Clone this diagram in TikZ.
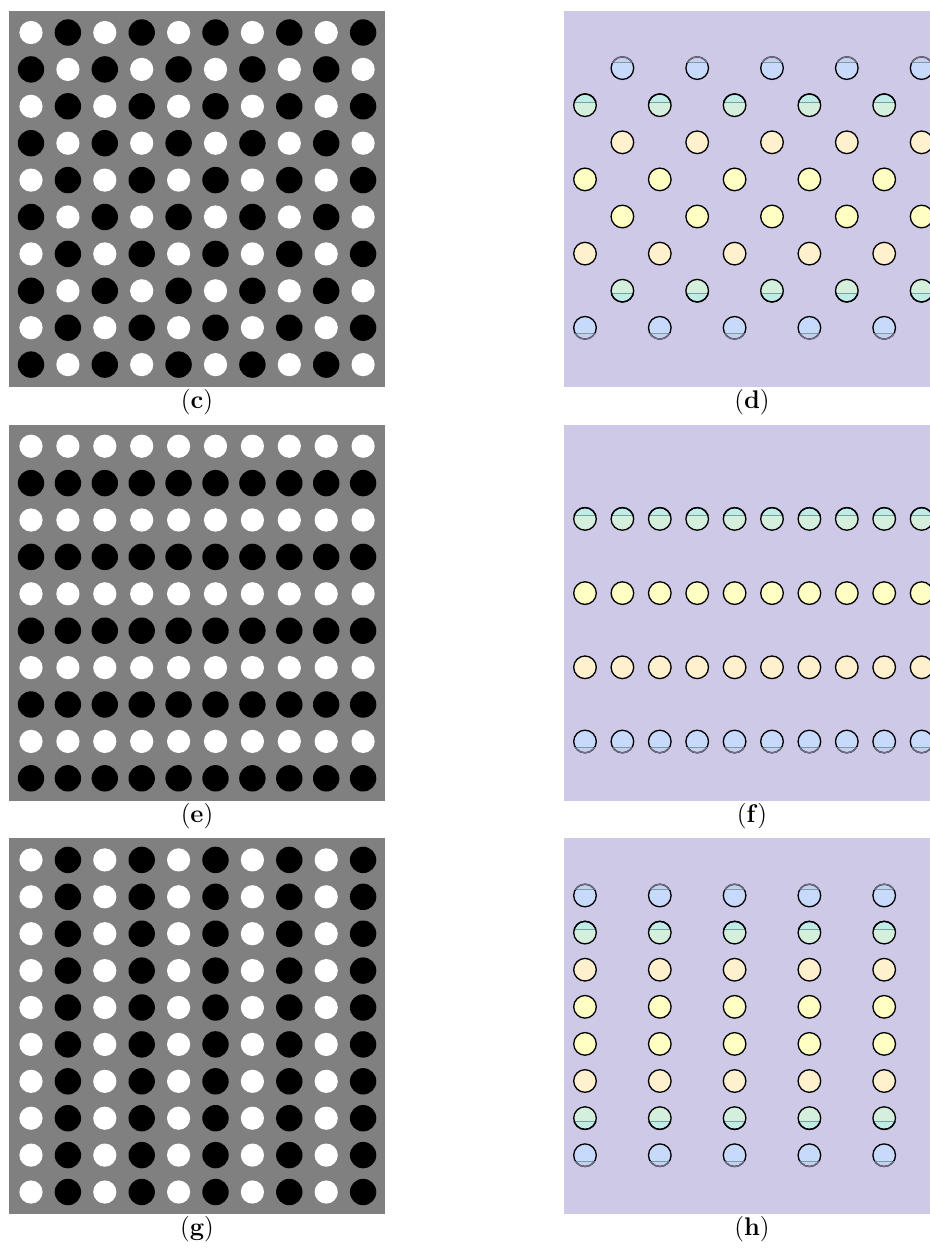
\documentclass[tikz,border=0pt]{standalone}
\usepackage{tikz}
\definecolor{panelgrey}{RGB}{128,128,128}
\definecolor{lilac}{RGB}{207,201,232}
\definecolor{iceblue}{RGB}{200,218,252}
\definecolor{icecap}{RGB}{200,206,238}
\definecolor{mint}{RGB}{212,240,220}
\definecolor{mintcap}{RGB}{192,236,232}
\definecolor{peach}{RGB}{255,240,206}
\definecolor{lemon}{RGB}{255,255,196}
\definecolor{rimgrey}{RGB}{110,110,135}
\definecolor{seam}{RGB}{120,160,160}

\newcommand{\ballr}{11.3}
\newcommand{\plainball}[3]{\filldraw[rim,fill=#3] (#1,#2) circle (\ballr);}
\newcommand{\capball}[7]{%
  \begin{scope}
    \clip (#1,#2) circle (\ballr);
    \fill[#3] (#1,#2) circle (\ballr);
    \fill[#4] (#1-\ballr,#2+#5) rectangle (#1+\ballr,#2+#6);
    \draw[seamline] (#1-\ballr,#2+#6) -- (#1+\ballr,#2+#6);
  \end{scope}
  \draw[rim] (#1,#2) circle (\ballr);
  \begin{scope}
    \clip (#1-\ballr-3,#2+#5) rectangle (#1+\ballr+3,#2+#6);
    \draw[rim,draw=#7] (#1,#2) circle (\ballr);
  \end{scope}}
\newcommand{\ballbt}[2]{\capball{#1}{#2}{iceblue}{icecap}{-14}{-6}{rimgrey}}
\newcommand{\ballgt}[2]{\capball{#1}{#2}{mint}{mintcap}{-14}{-3}{black}}
\newcommand{\ballor}[2]{\plainball{#1}{#2}{peach}}
\newcommand{\ballye}[2]{\plainball{#1}{#2}{lemon}}
\newcommand{\ballgb}[2]{\capball{#1}{#2}{mint}{mintcap}{14}{3}{black}}
\newcommand{\ballbb}[2]{\capball{#1}{#2}{iceblue}{icecap}{14}{6}{rimgrey}}

\tikzset{
  rim/.style={draw=black,line width=0.75pt},
  seamline/.style={draw=seam,line width=0.5pt},
  light/.style={fill=white,radius=11.6},
  dark/.style={fill=black,radius=13.2},
  lab/.style={anchor=north,inner sep=0pt,font=\fontsize{14.5}{17}\selectfont}
}

\begin{document}
\begin{tikzpicture}[x=0.02cm,y=-0.02cm]
\useasboundingbox (0,0) rectangle (930,1249);
\clip (0,0) rectangle (930,1249);

\foreach \p in {0,1,2} {
  \pgfmathsetmacro\T{11+413.7*\p}
  \fill[panelgrey] (9,\T) rectangle (385,\T+376);
  \fill[lilac] (564,\T) rectangle (940,\T+376);
}

% (c) chequerboard
\foreach \col in {0,...,9} \foreach \row in {0,...,9} {
  \pgfmathsetmacro\x{31+36.9*\col}
  \pgfmathsetmacro\y{32.5+36.9*\row}
  \ifodd\numexpr\col+\row\relax \def\kind{dark}\else \def\kind{light}\fi
  \fill[\kind] (\x,\y) circle;
}
% (e) rows
\foreach \col in {0,...,9} \foreach \row in {0,...,9} {
  \pgfmathsetmacro\x{31+36.9*\col}
  \pgfmathsetmacro\y{424.7+21.5+36.9*\row}
  \ifodd\row \def\kind{dark}\else \def\kind{light}\fi
  \fill[\kind] (\x,\y) circle;
}
% (g) columns
\foreach \col in {0,...,9} \foreach \row in {0,...,9} {
  \pgfmathsetmacro\x{31+36.9*\col}
  \pgfmathsetmacro\y{838.4+21.5+36.9*\row}
  \ifodd\col \def\kind{dark}\else \def\kind{light}\fi
  \fill[\kind] (\x,\y) circle;
}

% (d)
\foreach \row/\balltype in {1/\ballbt,2/\ballgt,3/\ballor,4/\ballye,5/\ballye,6/\ballor,7/\ballgb,8/\ballbb}
  \foreach \col in {0,2,...,8} {
    \pgfmathsetmacro\x{585+37.4*(\col+mod(\row,2))}
    \pgfmathsetmacro\y{31+37.1*\row}
    \balltype{\x}{\y}
  }
% (f)
\foreach \row/\balltype in {2/\ballgt,4/\ballye,6/\ballor,8/\ballbb}
  \foreach \col in {0,...,9} {
    \pgfmathsetmacro\x{585+37.4*\col}
    \pgfmathsetmacro\y{424.7+20+37.1*\row}
    \balltype{\x}{\y}
  }
% (h)
\foreach \row/\balltype in {1/\ballbt,2/\ballgt,3/\ballor,4/\ballye,5/\ballye,6/\ballor,7/\ballgb,8/\ballbb}
  \foreach \col in {0,2,...,8} {
    \pgfmathsetmacro\x{585+37.4*\col}
    \pgfmathsetmacro\y{838.4+20+37.1*\row}
    \balltype{\x}{\y}
  }

\node[lab] (labc) at (197,389) {(\textbf{c})};
\node[lab] (labd) at (752,389) {(\textbf{d})};
\node[lab] (labe) at (197,802.7) {(\textbf{e})};
\node[lab] (labf) at (752,802.7) {(\textbf{f})};
\node[lab] (labg) at (197,1216.4) {(\textbf{g})};
\node[lab] (labh) at (752,1216.4) {(\textbf{h})};
\end{tikzpicture}
\end{document}
